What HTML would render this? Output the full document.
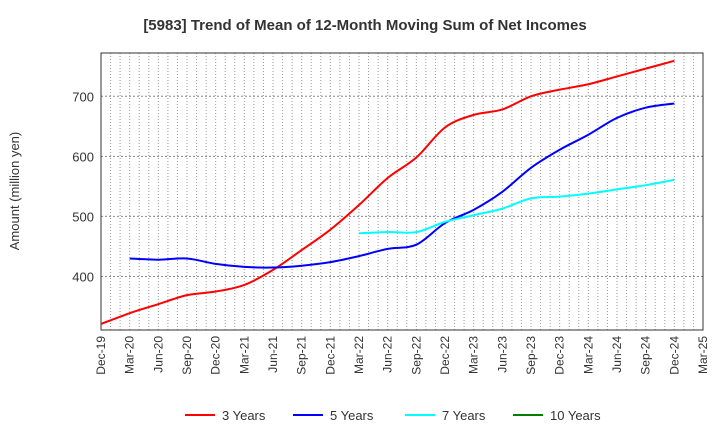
<!DOCTYPE html>
<html><head><meta charset="utf-8"><style>
body{margin:0;background:#fff;font-family:"Liberation Sans",sans-serif;}
</style></head><body>
<svg id="chart" width="720" height="440" xmlns="http://www.w3.org/2000/svg" font-family="Liberation Sans, sans-serif">
<text x="365" y="30" text-anchor="middle" font-size="15" font-weight="bold" fill="#333">[5983]  Trend of Mean of 12-Month Moving Sum of Net Incomes</text>
<text transform="translate(19,191) rotate(-90)" text-anchor="middle" font-size="13" fill="#333">Amount (million yen)</text>
<g id="grid"></g><g id="axes"></g><g id="series"></g><g id="legend"></g>
</svg>
<script>
const xLabels=["Dec-19","Mar-20","Jun-20","Sep-20","Dec-20","Mar-21","Jun-21","Sep-21","Dec-21","Mar-22","Jun-22","Sep-22","Dec-22","Mar-23","Jun-23","Sep-23","Dec-23","Mar-24","Jun-24","Sep-24","Dec-24","Mar-25"];
const yTicks=[400,500,600,700];
const seriesNames=["3 Years","5 Years","7 Years","10 Years"];
const seriesColors=["#ff0000","#0000ff","#00ffff","#008000"];
const s3=[321,339,354,369,375,386,411,444,478,519,564,598,648,669,678,700,711,720,733,746,759];
const s5=[null,430,428,430,421,416,415,418,424,434,446,453,489,511,541,581,611,636,664,681,688];
const s7=[null,null,null,null,null,null,null,null,null,472,474,474,491,502,513,530,533,538,545,552,561];
const s10=[];
const L=101,R=703,T=53,B=330,YMIN=311,YMAX=772;
const NS="http://www.w3.org/2000/svg";
const xq=i=>L+(R-L)*i/(xLabels.length-1);
const xm=m=>L+(R-L)*m/((xLabels.length-1)*3);
const y=v=>B-(v-YMIN)/(YMAX-YMIN)*(B-T);
function mk(tag,attrs,parent){const e=document.createElementNS(NS,tag);for(const k in attrs)e.setAttribute(k,attrs[k]);parent.appendChild(e);return e;}
const grid=document.getElementById('grid'),axes=document.getElementById('axes'),ser=document.getElementById('series'),leg=document.getElementById('legend');
for(let m=1;m<(xLabels.length-1)*3;m++){const g=mk('line',{x1:xm(m),x2:xm(m),y1:T,y2:B,stroke:'#999','stroke-dasharray':'1,2','stroke-width':1},grid);

}
yTicks.forEach(v=>{const g=mk('line',{x1:L,x2:R,y1:y(v),y2:y(v),stroke:'#888','stroke-dasharray':'2,2','stroke-width':1},grid);


const t=mk('text',{x:L-7,y:y(v)+5,'text-anchor':'end','font-size':13,fill:'#333'},axes);t.textContent=v;

});
const fr=mk('rect',{x:L,y:T,width:R-L,height:B-T,fill:'none',stroke:'#333','stroke-width':1},axes);


xLabels.forEach((s,i)=>{const t=mk('text',{transform:`translate(${xq(i)+4},${B+6}) rotate(-90)`,'text-anchor':'end','font-size':12,fill:'#333'},axes);t.textContent=s;

});
function path(arr){const p=[];arr.forEach((v,i)=>{if(v!=null)p.push([xq(i),y(v)]);});if(p.length<2)return '';
let d=`M${p[0][0]},${p[0][1]}`;for(let i=0;i<p.length-1;i++){const p0=p[i-1]||p[i],p1=p[i],p2=p[i+1],p3=p[i+2]||p2;
d+=` C${p1[0]+(p2[0]-p0[0])/6},${p1[1]+(p2[1]-p0[1])/6} ${p2[0]-(p3[0]-p1[0])/6},${p2[1]-(p3[1]-p1[1])/6} ${p2[0]},${p2[1]}`;}return d;}
[s3,s5,s7,s10].forEach((a,k)=>{const d=path(a);if(!d)return;const e=mk('path',{d,fill:'none',stroke:seriesColors[k],'stroke-width':2},ser);

});
const lx=[185,293,405,513];
seriesNames.forEach((n,k)=>{const l=mk('line',{x1:lx[k],x2:lx[k]+30,y1:415,y2:415,stroke:seriesColors[k],'stroke-width':2},leg);


const t=mk('text',{x:lx[k]+37,y:420,'font-size':13,fill:'#333'},leg);t.textContent=n;

});
</script>
</body></html>
